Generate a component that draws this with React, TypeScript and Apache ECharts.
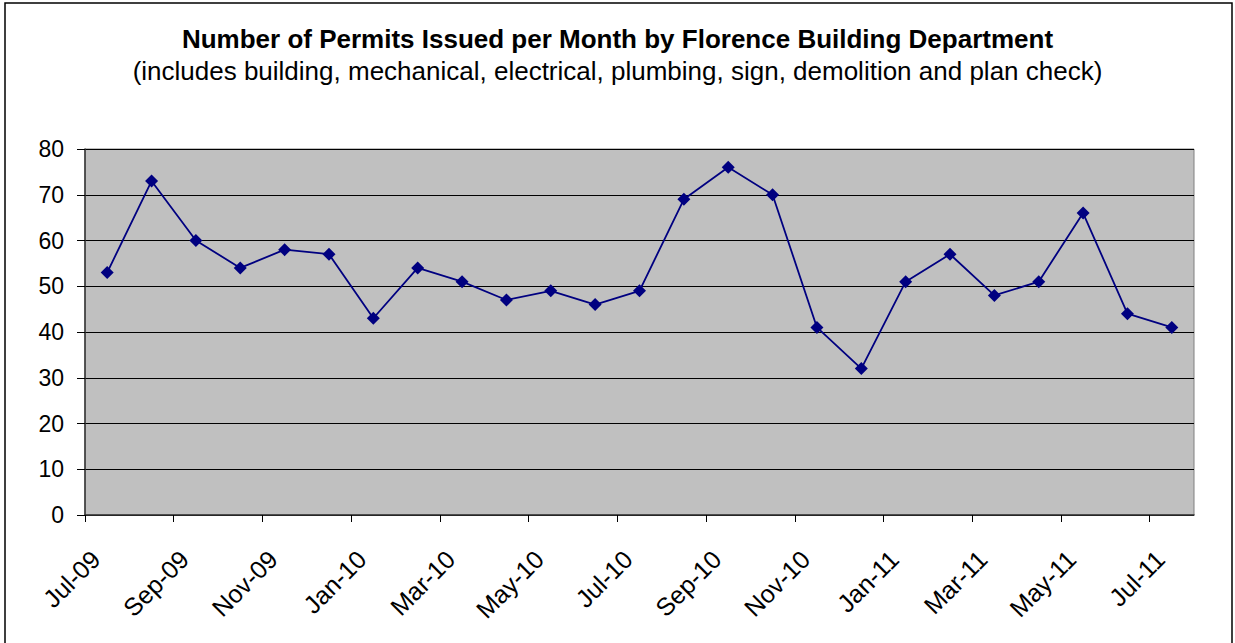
import React, { useEffect, useRef } from "react";
import * as echarts from "echarts";

const monthLabels = [
  "Jul-09", "Aug-09", "Sep-09", "Oct-09", "Nov-09", "Dec-09",
  "Jan-10", "Feb-10", "Mar-10", "Apr-10", "May-10", "Jun-10",
  "Jul-10", "Aug-10", "Sep-10", "Oct-10", "Nov-10", "Dec-10",
  "Jan-11", "Feb-11", "Mar-11", "Apr-11", "May-11", "Jun-11",
  "Jul-11",
];
const permits = [
  53, 73, 60, 54, 58, 57, 43, 54, 51, 47, 49, 46, 49,
  69, 76, 70, 41, 32, 51, 57, 48, 51, 66, 44, 41,
];
const yTicks = [0, 10, 20, 30, 40, 50, 60, 70, 80];
const titleText = "Number of Permits Issued per Month by Florence Building Department";
const subtitleText = "(includes building, mechanical, electrical, plumbing, sign, demolition and plan check)";

export default function App() {
  const ref = useRef<HTMLDivElement>(null);
  useEffect(() => {
    document.body.style.margin = "0";
    const chart = echarts.init(ref.current!, undefined, { renderer: "svg" });
    const font = "'Liberation Sans', Arial, sans-serif";
    const tickIdx = monthLabels.map((_, i) => i).filter((i) => i % 2 === 0);
    const labelShift = 0.04; // small visual shift of rotated labels right of the tick
    const labelPos = tickIdx.map((i) => i + labelShift);
    chart.setOption({
      animation: false,
      backgroundColor: "#ffffff",
      title: [
        {
          text: titleText,
          left: "center",
          top: 21,
          textStyle: { fontFamily: font, fontSize: 26, fontWeight: "bold", color: "#000" },
        },
        {
          text: subtitleText,
          left: "center",
          top: 53,
          textStyle: { fontFamily: font, fontSize: 26, fontWeight: "normal", color: "#000" },
        },
      ],
      graphic: [
        {
          type: "rect",
          shape: { x: 5, y: 3, width: 1227, height: 650 },
          style: { fill: "none", stroke: "#000", lineWidth: 1.5 },
          silent: true,
        },
      ],
      grid: {
        left: 85,
        right: 41,
        top: 149,
        bottom: 128,
        show: true,
        backgroundColor: "#C0C0C0",
        borderColor: "#808080",
        borderWidth: 1,
      },
      xAxis: {
        type: "value",
        min: 0,
        max: monthLabels.length,
        interval: 2,
        splitLine: { show: false },
        axisLine: { show: true, lineStyle: { color: "#333", width: 1.5 } },
        axisTick: {
          show: true,
          length: 7,
          lineStyle: { color: "#000" },
          customValues: tickIdx,
        },
        axisLabel: {
          show: true,
          rotate: 45,
          margin: 31,
          align: "right",
          verticalAlign: "top",
          fontFamily: font,
          fontSize: 25,
          color: "#000",
          customValues: labelPos,
          formatter: (v: number) => monthLabels[Math.round(v)] ?? "",
        },
      },
      yAxis: {
        type: "value",
        min: yTicks[0],
        max: yTicks[yTicks.length - 1],
        interval: 10,
        axisLine: { show: true, lineStyle: { color: "#333", width: 1.5 } },
        axisTick: { show: true, length: 8, lineStyle: { color: "#000" } },
        axisLabel: { fontFamily: font, fontSize: 23, color: "#000", margin: 21 },
        splitLine: { show: true, lineStyle: { color: "#000", width: 1 } },
      },
      series: [
        {
          type: "line",
          data: permits.map((v, i) => [i + 0.5, v]),
          symbol: "diamond",
          symbolSize: 13,
          showAllSymbol: true,
          lineStyle: { color: "#000080", width: 1.8 },
          itemStyle: { color: "#000080" },
        },
      ],
    });
    return () => chart.dispose();
  }, []);
  return <div ref={ref} style={{ width: 1235, height: 643 }} />;
}
